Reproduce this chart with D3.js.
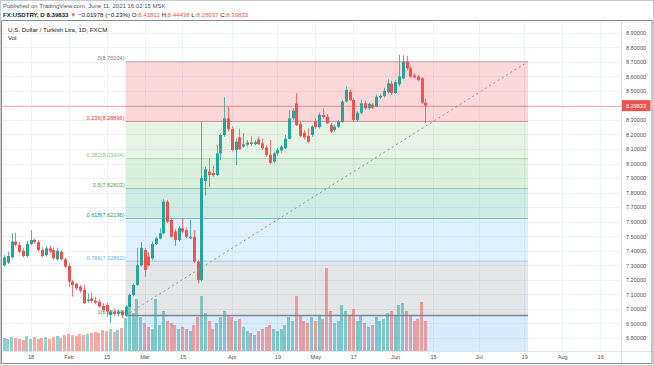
<!DOCTYPE html>
<html>
<head>
<meta charset="utf-8">
<script src="https://cdn.jsdelivr.net/npm/d3@7"></script>
<style>
body{margin:0;background:#fff;}
text{font-family:"Liberation Sans",Arial,sans-serif;}
</style>
</head>
<body>
<div id="plot"></div>
<script>
// USD/TRY daily candles, Jan 7 - Jun 11 2021 (weekdays)
var open  = [7.300,7.318,7.355,7.463,7.440,7.400,7.364,
  7.447,7.474,7.460,7.405,7.369,7.417,7.405,7.341,7.394,7.341,
  7.295,7.188,7.172,7.153,7.130,7.055,7.073,7.057,7.050,7.020,
  7.027,6.958,6.981,6.966,6.981,6.955,7.016,7.096,7.165,7.300,
  7.405,7.360,7.348,7.447,7.486,7.520,7.738,7.612,7.532,7.474,
  7.555,7.543,7.486,7.497,7.325,7.199,7.880,7.944,7.935,7.921,
  8.070,8.196,8.311,8.236,8.093,8.180,8.116,8.130,8.145,8.135,
  8.166,8.139,8.110,8.060,8.013,8.070,8.090,8.105,8.170,8.311,
  8.414,8.272,8.212,8.190,8.196,8.290,8.250,8.335,8.322,8.265,
  8.231,8.254,8.288,8.426,8.494,8.437,8.300,8.350,8.414,8.380,
  8.405,8.390,8.455,8.465,8.490,8.550,8.485,8.545,8.586,8.701,
  8.655,8.607,8.598,8.586,8.41811];
var high  = [7.370,7.394,7.520,7.525,7.463,7.417,7.470,
  7.540,7.486,7.474,7.424,7.433,7.433,7.424,7.417,7.405,7.355,
  7.314,7.199,7.181,7.165,7.165,7.107,7.112,7.085,7.066,7.039,
  7.043,6.993,7.004,6.997,6.993,7.027,7.107,7.176,7.420,7.460,
  7.420,7.390,7.463,7.497,7.555,7.754,7.749,7.623,7.548,7.571,
  7.623,7.560,7.612,7.543,7.337,8.293,7.980,8.035,7.985,8.128,
  8.208,8.456,8.391,8.254,8.173,8.242,8.208,8.162,8.190,8.160,
  8.185,8.173,8.128,8.162,8.082,8.105,8.128,8.196,8.368,8.380,
  8.483,8.288,8.231,8.242,8.265,8.310,8.350,8.380,8.340,8.280,
  8.270,8.300,8.440,8.530,8.510,8.450,8.360,8.440,8.430,8.420,
  8.415,8.475,8.480,8.520,8.580,8.570,8.575,8.747,8.745,8.740,
  8.670,8.620,8.610,8.595,8.44438];
var low   = [7.290,7.309,7.348,7.428,7.383,7.355,7.355,
  7.440,7.447,7.394,7.355,7.360,7.383,7.337,7.332,7.332,7.279,
  7.153,7.085,7.130,7.112,7.034,7.043,7.043,7.032,7.011,6.981,
  6.947,6.901,6.952,6.947,6.935,6.947,7.011,7.089,7.158,7.290,
  7.222,7.290,7.337,7.440,7.479,7.515,7.589,7.486,7.433,7.463,
  7.520,7.486,7.479,7.314,7.176,7.190,7.780,7.840,7.910,7.914,
  8.024,8.185,8.219,8.082,7.990,8.093,8.110,8.116,8.120,8.125,
  8.128,8.093,8.047,7.997,8.002,8.052,8.075,8.098,8.165,8.300,
  8.258,8.180,8.166,8.139,8.185,8.240,8.240,8.310,8.270,8.210,
  8.220,8.245,8.280,8.420,8.430,8.290,8.290,8.340,8.370,8.370,
  8.375,8.385,8.445,8.455,8.480,8.470,8.480,8.530,8.580,8.640,
  8.590,8.585,8.565,8.410,8.28037];
var close = [7.355,7.364,7.463,7.440,7.394,7.364,7.447,
  7.474,7.460,7.405,7.364,7.417,7.394,7.348,7.400,7.341,7.291,
  7.188,7.165,7.142,7.126,7.039,7.064,7.055,7.043,7.016,6.993,
  6.981,6.981,6.966,6.981,6.955,7.016,7.096,7.165,7.300,7.420,
  7.268,7.300,7.447,7.486,7.520,7.738,7.600,7.497,7.474,7.555,
  7.532,7.497,7.497,7.325,7.199,7.900,7.960,7.921,7.920,8.070,
  8.196,8.311,8.236,8.093,8.150,8.098,8.132,8.145,8.135,8.148,
  8.134,8.105,8.060,8.006,8.070,8.093,8.116,8.170,8.311,8.363,
  8.265,8.190,8.180,8.150,8.254,8.250,8.335,8.320,8.277,8.220,
  8.254,8.288,8.426,8.506,8.437,8.300,8.350,8.414,8.380,8.410,
  8.385,8.460,8.465,8.500,8.552,8.485,8.560,8.600,8.701,8.655,
  8.598,8.593,8.575,8.418,8.39833];
var volume = [13,12,14,13,12,11,15,
  12,14,12,13,14,12,14,15,13,16,
  17,16,15,17,16,17,18,19,18,21,
  20,22,19,21,23,33,46,38,52,34,
  28,24,22,52,26,40,30,28,26,22,
  24,22,20,26,34,55,38,30,22,28,
  34,40,36,34,30,32,24,20,18,16,
  20,22,24,26,22,20,22,26,34,30,
  55,36,30,28,34,30,36,32,83,40,
  28,30,46,40,36,42,30,36,28,24,
  26,34,30,32,38,40,36,46,48,40,
  36,30,32,49,30];

var priceTicks = [6.8,6.9,7.0,7.1,7.2,7.3,7.4,7.5,7.6,7.7,7.8,7.9,8.0,8.1,8.2,8.3,8.4,8.5,8.6,8.7,8.8,8.9];
var tickDates  = ['2021-01-18','2021-02-01','2021-02-15','2021-03-01','2021-03-15','2021-04-01','2021-04-19','2021-05-03','2021-05-17','2021-06-01','2021-06-15','2021-07-01','2021-07-19','2021-08-02','2021-08-16'];
var tickLabels = ['18','Feb','15','Mar','15','Apr','19','May','17','Jun','15','Jul','19','Aug','16'];

var fibLabels = ['0','0.236','0.382','0.5','0.618','0.786','1','1.618'];
var fibPrices = [8.70104,8.28896,8.03404,7.82803,7.62196,7.32862,6.95494,5.87589];
var fibColors = ['#787b86','#f23645','#81c784','#4caf50','#089981','#64b5f6','#787b86','#1e88e5'];
var fibStart = '2021-02-22', fibEnd = '2021-07-20';
var lastPrice = 8.39833;

var W = 654, H = 366;
var pane = {l:2, r:621, t:21, b:351};

var parse = d3.timeParse('%Y-%m-%d');
var base = parse('2021-01-18');
// weekday index counted from Jan 18 (a Monday)
function tradingIndex(d){
  var days = d3.timeDay.count(base, d);
  var wk = Math.floor(days/7);
  return wk*5 + (((days%7)+7)%7);
}
var dates = d3.timeDay.range(parse('2021-01-07'), parse('2021-06-12'))
  .filter(function(d){ return d.getDay()!==0 && d.getDay()!==6; });

var bars = dates.map(function(d,i){
  return {i:tradingIndex(d), o:open[i], h:high[i], l:low[i], c:close[i], v:volume[i]};
});

var x = d3.scaleLinear().domain([0,150]).range([30.6, 30.6+150*3.797]);
var y = d3.scaleLinear().domain([6.8,8.9]).range([338,32.7]);
var vy = d3.scaleLinear().domain([0,d3.max(volume)]).range([pane.b,268]);

var svg = d3.select('#plot').append('svg')
  .attr('width',W).attr('height',H);

svg.append('defs').append('clipPath').attr('id','clip')
  .append('rect').attr('x',pane.l).attr('y',pane.t)
  .attr('width',pane.r-pane.l).attr('height',pane.b-pane.t);

// header
svg.append('text').attr('x',3).attr('y',7.5)
  .style('font-size','6px').style('fill','#50535e')
  .text('Published on TradingView.com, June 11, 2021 16:02:15 MSK');

var hdr = svg.append('text').attr('x',3).attr('y',16.5).style('font-size','6.1px').style('fill','#131722');
hdr.append('tspan').style('font-weight','bold').text('FX:USDTRY, D 8.39833 ');
hdr.append('tspan').style('fill','#ef5350').text('▼ ');
hdr.append('tspan').text('\u22120.01978 (\u22120.23%) O:');
hdr.append('tspan').style('fill','#ef5350').text('8.41811');
hdr.append('tspan').text(' H:');
hdr.append('tspan').style('fill','#ef5350').text('8.44438');
hdr.append('tspan').text(' L:');
hdr.append('tspan').style('fill','#ef5350').text('8.28037');
hdr.append('tspan').text(' C:');
hdr.append('tspan').style('fill','#ef5350').text('8.39833');

var plot = svg.append('g').attr('clip-path','url(#clip)');

// grid
plot.selectAll('.hgrid').data(priceTicks).enter().append('line')
  .attr('x1',pane.l).attr('x2',pane.r)
  .attr('y1',function(d){return Math.round(y(d))+0.5;})
  .attr('y2',function(d){return Math.round(y(d))+0.5;})
  .style('stroke','#f0f3fa').style('stroke-width',1);
var tickIdx = tickDates.map(function(s){ return tradingIndex(parse(s)); });
plot.selectAll('.vgrid').data(tickIdx).enter().append('line')
  .attr('y1',pane.t).attr('y2',pane.b)
  .attr('x1',function(d){return Math.round(x(d))+0.5;})
  .attr('x2',function(d){return Math.round(x(d))+0.5;})
  .style('stroke','#f0f3fa').style('stroke-width',1);

// fib zones
var fx0 = x(tradingIndex(parse(fibStart))), fx1 = x(tradingIndex(parse(fibEnd)));
var zones = d3.range(fibPrices.length-1);
plot.selectAll('.zone').data(zones).enter().append('rect')
  .attr('x',fx0).attr('width',fx1-fx0)
  .attr('y',function(k){return y(fibPrices[k]);})
  .attr('height',function(k){return y(fibPrices[k+1])-y(fibPrices[k]);})
  .style('fill',function(k){return fibColors[k+1];})
  .style('fill-opacity',function(k){return k==6?0.17:0.2;});

// volume
plot.selectAll('.vol').data(bars).enter().append('rect')
  .attr('x',function(d){return Math.round(x(d.i)-1.5);})
  .attr('width',3)
  .attr('y',function(d){return vy(d.v);})
  .attr('height',function(d){return pane.b-vy(d.v);})
  .style('fill',function(d){return d.c>=d.o?'#26a69a':'#ef5350';})
  .style('fill-opacity',0.5);

// fib lines
plot.selectAll('.fibline').data(fibPrices.slice(0,7)).enter().append('line')
  .attr('x1',fx0).attr('x2',fx1)
  .attr('y1',function(d){return y(d);}).attr('y2',function(d){return y(d);})
  .style('stroke',function(d,k){return fibColors[k];})
  .style('stroke-opacity',function(d,k){return k==6?0.9:0.5;})
  .style('stroke-width',function(d,k){return k==6?1.4:1;});

// candles
var cg = plot.selectAll('.candle').data(bars).enter().append('g');
cg.append('line')
  .attr('x1',function(d){return Math.round(x(d.i))+0.5;})
  .attr('x2',function(d){return Math.round(x(d.i))+0.5;})
  .attr('y1',function(d){return y(d.h);}).attr('y2',function(d){return y(d.l);})
  .style('stroke',function(d){return d.c>=d.o?'#26a69a':'#ef5350';})
  .style('stroke-width',0.8);
cg.append('rect')
  .attr('x',function(d){return Math.round(x(d.i))-1;})
  .attr('width',3)
  .attr('y',function(d){return y(Math.max(d.o,d.c));})
  .attr('height',function(d){return Math.max(1,Math.abs(y(d.o)-y(d.c)));})
  .style('fill',function(d){return d.c>=d.o?'#26a69a':'#ef5350';});

// fib trend line
plot.append('line')
  .attr('x1',fx0).attr('y1',y(fibPrices[6]))
  .attr('x2',fx1).attr('y2',y(fibPrices[0]))
  .style('stroke','#9598a1').style('stroke-width',1)
  .style('stroke-dasharray','2,3');

// fib labels
plot.selectAll('.fiblabel').data(fibPrices.slice(0,7)).enter().append('text')
  .attr('x',fx0-1).attr('y',function(d){return y(d)-1.2;})
  .attr('text-anchor','end')
  .style('font-size','5.6px')
  .style('fill',function(d,k){return fibColors[k];})
  .text(function(d,k){return fibLabels[k]+'('+d3.format('.5f')(d)+')';});

// last price line
plot.append('line')
  .attr('x1',pane.l).attr('x2',pane.r)
  .attr('y1',Math.round(y(lastPrice))+0.5).attr('y2',Math.round(y(lastPrice))+0.5)
  .style('stroke','#ef5350').style('stroke-width',1)
  .style('stroke-opacity',0.45);

// pane titles
svg.append('text').attr('x',8).attr('y',31.5)
  .style('font-size','6.2px').style('fill','#131722')
  .text('U.S. Dollar / Turkish Lira, 1D, FXCM');
svg.append('text').attr('x',8).attr('y',40)
  .style('font-size','6px').style('fill','#131722').text('Vol');

// right axis
var yAxis = svg.append('g').attr('transform','translate('+(pane.r+15)+',0)')
  .call(d3.axisRight(y).tickValues(priceTicks).tickSize(0).tickPadding(0)
    .tickFormat(d3.format('.5f')));
yAxis.select('.domain').remove();
yAxis.selectAll('text').attr('text-anchor','middle')
  .style('font-size','5.6px').style('fill','#50535e')
  .style('font-family','"Liberation Sans",Arial,sans-serif');

svg.append('rect').attr('x',pane.r+0.5).attr('y',y(lastPrice)-5.5)
  .attr('width',29).attr('height',11).style('fill','#ef5350');
svg.append('text').attr('x',pane.r+15).attr('y',y(lastPrice)+2)
  .attr('text-anchor','middle').style('font-size','5.6px')
  .style('fill','#fff').text(d3.format('.5f')(lastPrice));

// bottom axis
var xAxis = svg.append('g').attr('transform','translate(0,'+(pane.b+4)+')')
  .call(d3.axisBottom(x).tickValues(tickIdx).tickSize(0).tickPadding(0)
    .tickFormat(function(d,i){return tickLabels[i];}));
xAxis.select('.domain').remove();
xAxis.selectAll('text').style('font-size','5.6px').style('fill','#50535e')
  .style('font-family','"Liberation Sans",Arial,sans-serif');

// frame
svg.append('line').attr('x1',pane.r+0.5).attr('x2',pane.r+0.5)
  .attr('y1',pane.t).attr('y2',H-3).style('stroke','#e0e3eb');
svg.append('line').attr('x1',pane.l).attr('x2',W-2)
  .attr('y1',pane.b+0.5).attr('y2',pane.b+0.5).style('stroke','#e0e3eb');
svg.append('rect').attr('x',1.5).attr('y',pane.t-0.5)
  .attr('width',W-3.5).attr('height',H-pane.t-2)
  .style('fill','none').style('stroke','#8c8f99').style('stroke-width',1);
svg.append('rect').attr('x',0.5).attr('y',0.5)
  .attr('width',W-1).attr('height',H-1)
  .style('fill','none').style('stroke','#c8cad0').style('stroke-width',1);
</script>
</body>
</html>
